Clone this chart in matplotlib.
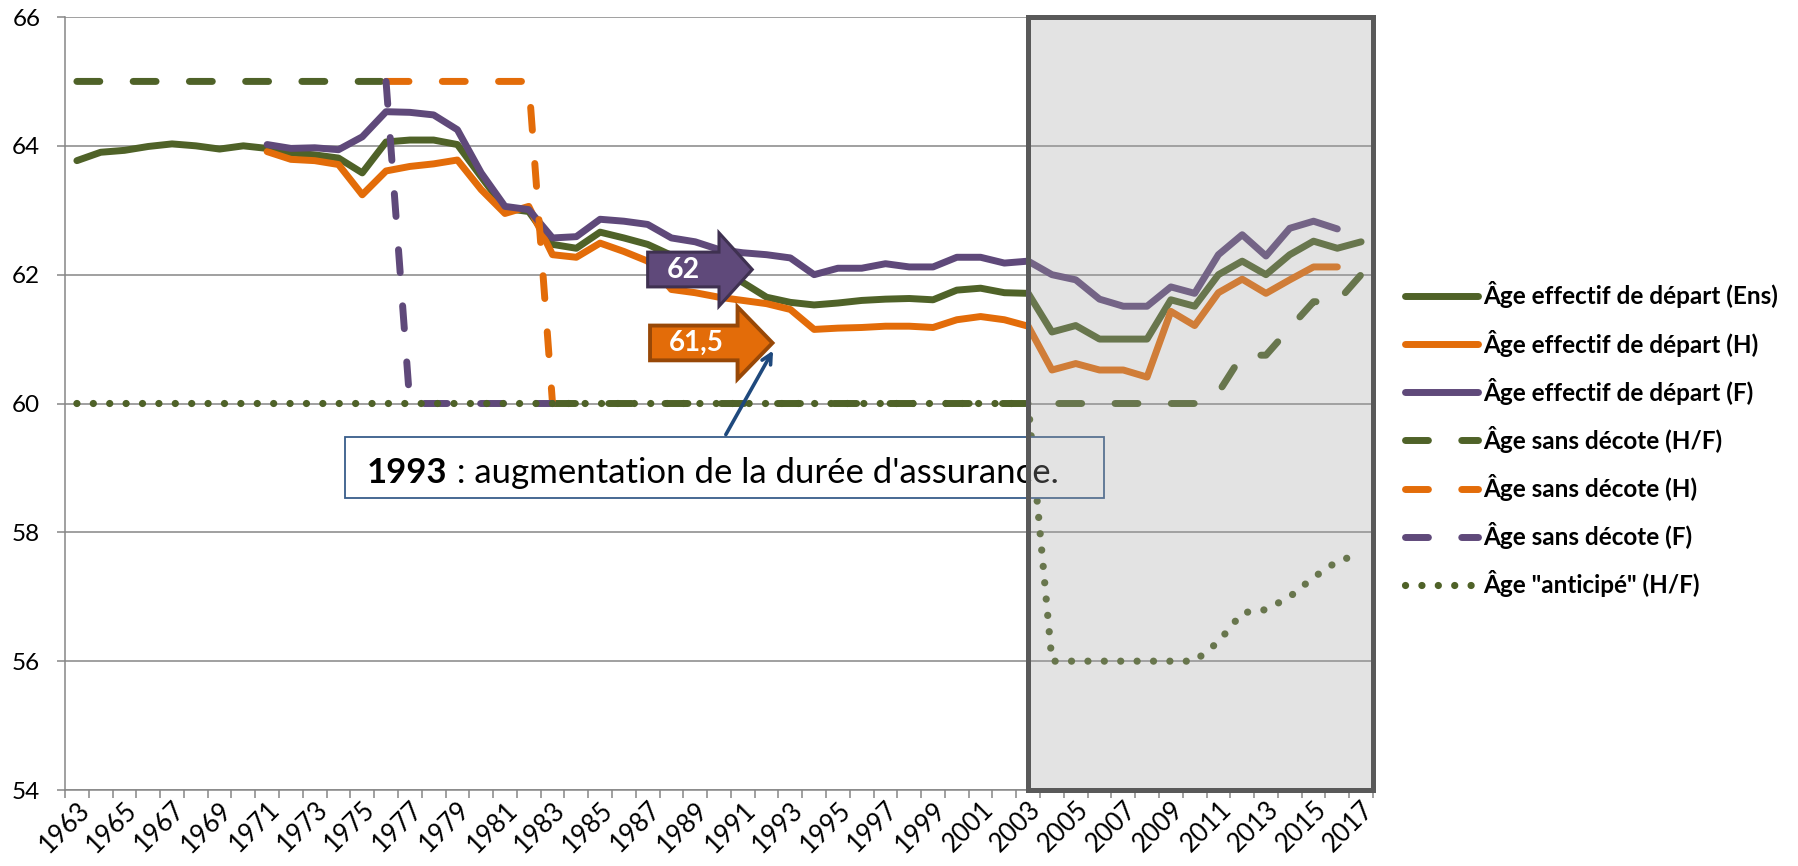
import numpy as np
import matplotlib
matplotlib.use("Agg")
import matplotlib.pyplot as plt
from matplotlib.patches import Rectangle, FancyArrow

plt.rcParams['font.family'] = ['Lato', 'DejaVu Sans']

nan = np.nan

# Années (axe des catégories)
years = list(range(1963, 2018))
tick_years = years[::2]

# Âge effectif de départ, ensemble (1963-2017)
age_ens = [63.77, 63.90, 63.93, 63.99, 64.03, 64.00, 63.95, 64.00, 63.96, 63.89,
           63.86, 63.81, 63.58, 64.06, 64.09, 64.09, 64.02, 63.52, 63.03, 62.98,
           62.47, 62.41, 62.66, 62.57, 62.47, 62.30, 62.20, 62.05, 61.88, 61.65,
           61.57, 61.53, 61.56, 61.60, 61.62, 61.63, 61.61, 61.76, 61.79, 61.72,
           61.71, 61.11, 61.21, 61.00, 61.00, 61.00, 61.61, 61.51, 62.00, 62.21,
           62.00, 62.31, 62.52, 62.41, 62.51]

# Hommes / femmes (1971-2016)
years_hf = list(range(1971, 2017))
age_h = [63.91, 63.79, 63.77, 63.71, 63.24, 63.61, 63.68, 63.72, 63.78, 63.32,
         62.95, 63.06, 62.31, 62.27, 62.49, 62.36, 62.21, 61.77, 61.72, 61.65,
         61.60, 61.55, 61.46, 61.15, 61.17, 61.18, 61.20, 61.20, 61.18, 61.30,
         61.35, 61.30, 61.20, 60.52, 60.62, 60.52, 60.52, 60.41, 61.43, 61.21,
         61.72, 61.93, 61.71, 61.92, 62.12, 62.12]
age_f = [64.02, 63.96, 63.97, 63.94, 64.14, 64.53, 64.52, 64.48, 64.25, 63.58,
         63.06, 63.01, 62.57, 62.59, 62.86, 62.83, 62.78, 62.57, 62.51, 62.39,
         62.34, 62.31, 62.26, 62.00, 62.10, 62.10, 62.17, 62.12, 62.12, 62.27,
         62.27, 62.18, 62.21, 62.00, 61.92, 61.62, 61.51, 61.51, 61.81, 61.71,
         62.31, 62.62, 62.29, 62.72, 62.83, 62.71]

# Âge sans décote
sans_decote_hf = [65, 65, 65, 65, 65, 65, 65, 65, 65, 65, 65, 65, 65, 65,
                  nan, nan, nan, nan, nan, nan,
                  60, 60, 60, 60, 60, 60, 60, 60, 60, 60, 60, 60, 60, 60,
                  60, 60, 60, 60, 60, 60, 60, 60, 60, 60, 60, 60, 60, 60,
                  60.17, 60.75, 60.75, 61.17, 61.58, 61.58, 62.0]
years_sd = list(range(1976, 1984))
sans_decote_h = [65, 65, 65, 65, 65, 65, 65, 60]
sans_decote_f = [65, 60, 60, 60, 60, 60, 60, 60]

# Âge "anticipé"
anticipe = [60, 60, 60, 60, 60, 60, 60, 60, 60, 60, 60, 60, 60, 60, 60, 60, 60,
            60, 60, 60, 60, 60, 60, 60, 60, 60, 60, 60, 60, 60, 60, 60, 60, 60,
            60, 60, 60, 60, 60, 60, 60,
            56, 56, 56, 56, 56, 56, 56,
            56.3, 56.75, 56.8, 57.0, 57.3, 57.55, 57.67]

labels = ["Âge effectif de départ (Ens)", "Âge effectif de départ (H)",
          "Âge effectif de départ (F)", "Âge sans décote (H/F)",
          "Âge sans décote (H)", "Âge sans décote (F)", 'Âge "anticipé" (H/F)']

GREEN = '#4F6228'
ORANGE = '#E36C09'
PURPLE = '#5F497A'
GRID = '#868686'
LW = 5.0
DASH = (3.3, 4.8)

fig = plt.figure(figsize=(17.99, 8.66), dpi=100)
ax = fig.add_axes([65 / 1799, 1 - 790 / 866, 1308 / 1799, 773 / 866])

solid = dict(lw=LW, solid_capstyle='round', solid_joinstyle='round')
dashed = dict(lw=LW, dashes=DASH, dash_capstyle='round', dash_joinstyle='round')

h1, = ax.plot(years, age_ens, color=GREEN, zorder=3, **solid)
h2, = ax.plot(years_hf, age_h, color=ORANGE, zorder=3, **solid)
h3, = ax.plot(years_hf, age_f, color=PURPLE, zorder=3, **solid)
h4, = ax.plot(years, sans_decote_hf, color=GREEN, zorder=4, **dashed)
h5, = ax.plot(years_sd, sans_decote_h, color=ORANGE, zorder=4, **dashed)
h6, = ax.plot(years_sd, sans_decote_f, color=PURPLE, zorder=4, **dashed)
h7, = ax.plot(years, anticipe, color=GREEN, lw=5.2, dashes=(0.01, 2.26),
              dash_capstyle='round', zorder=5)

ax.set_xlim(1962.5, 2017.5)
ax.set_ylim(54, 66)
ax.set_yticks(range(54, 67, 2))
ax.yaxis.grid(True, color=GRID, lw=1.1)
ax.set_axisbelow(True)
for side in ['top', 'right']:
    ax.spines[side].set_visible(False)
for side in ['left', 'bottom']:
    ax.spines[side].set_color(GRID)
    ax.spines[side].set_linewidth(1.1)

ax.tick_params(axis='y', length=5.8, width=1.1, color=GRID, labelsize=17.5, pad=12)
ax.set_xticks(tick_years)
ax.set_xticklabels([str(y) for y in tick_years])
ax.set_xticks(np.arange(1962.5, 2018, 1), minor=True)
ax.tick_params(axis='x', which='major', length=0, labelsize=18.5, pad=5)
ax.tick_params(axis='x', which='minor', length=5.8, width=1.1, color=GRID)
for lab in ax.get_xticklabels():
    lab.set_rotation(45)
    lab.set_ha('right')
    lab.set_va('top')
    lab.set_rotation_mode('anchor')

# encadré 1993
ax.add_patch(Rectangle((1974.26, 58.53), 31.94, 0.95, fc='white', ec='#385D8A',
                       lw=1.3, zorder=6))
t1 = ax.text(1975.2, 58.76, "1993", fontsize=25, fontweight='bold',
             va='baseline', zorder=7)
ax.annotate(" : augmentation de la durée d'assurance.", xy=(1, 0), xycoords=t1,
            fontsize=25, va='bottom', zorder=7)
ax.annotate("", xy=(1992.33, 60.86), xytext=(1990.23, 59.48),
            arrowprops=dict(arrowstyle='->,head_length=0.7,head_width=0.35',
                            color='#1F497D', lw=2.6), zorder=7)

# flèches 62 / 61,5
ax.add_patch(FancyArrow(1987.0, 62.08, 4.4, 0, width=0.54, head_width=1.14,
                        head_length=1.4, length_includes_head=True,
                        fc=PURPLE, ec='#3F3151', lw=2.2, zorder=8))
ax.text(1988.5, 62.08, "62", color='white', fontsize=20.5, fontweight='bold',
        ha='center', va='center', zorder=9)
ax.add_patch(FancyArrow(1987.1, 60.94, 5.15, 0, width=0.54, head_width=1.12,
                        head_length=1.47, length_includes_head=True,
                        fc=ORANGE, ec='#984807', lw=2.8, zorder=8))
ax.text(1989.05, 60.94, "61,5", color='white', fontsize=20, fontweight='bold',
        ha='center', va='center', zorder=9)

# zone grisée 2003-2017
ax.add_patch(Rectangle((2003, 54), 14.5, 12, fc=(0.647, 0.647, 0.647, 0.3),
                       ec='#595959', lw=3.6, zorder=10, clip_on=False))

fig.legend([h1, h2, h3, h4, h5, h6, h7], labels, loc='center left',
           bbox_to_anchor=(1405 / 1799, 0.4926), frameon=False,
           prop={'family': 'Lato', 'weight': 'bold', 'size': 17.5},
           handlelength=3.0, handletextpad=0.2, labelspacing=0.87,
           borderpad=0, borderaxespad=0)

fig.savefig('out.png', dpi=100, facecolor='white')
